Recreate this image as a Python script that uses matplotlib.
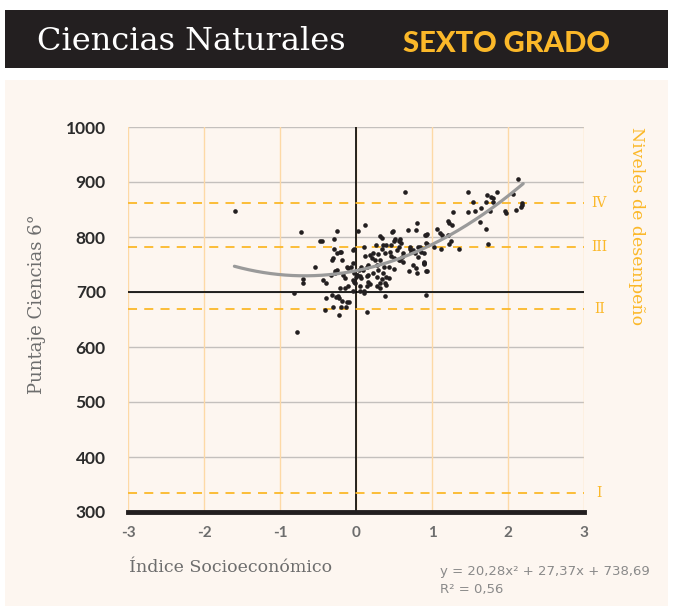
import matplotlib
matplotlib.use("Agg")
import matplotlib.pyplot as plt
import numpy as np
from matplotlib.patches import Rectangle

# ---------------- data ----------------
x_ticks = [-3, -2, -1, 0, 1, 2, 3]
y_ticks = [300, 400, 500, 600, 700, 800, 900, 1000]
level_values = [862, 782, 669, 335]
level_labels = ["IV", "III", "II", "I"]
coef = [20.28, 27.37, 738.69]
fit_range = [-1.6, 2.2]

ise = [
    -1.59, -0.73, -0.48, -0.45, -0.54, -0.70, -0.70, -0.44, -0.39, -0.82, -0.39, -0.41, -0.77,
    -0.32, -0.23, -0.19, -0.12, -0.30, -0.22, -0.20, -0.13, -0.09, -0.21, -0.14, -0.10, -0.04, -0.26, -0.24,
    -0.04, -0.01, 0.01, 0.04, 0.06, 0.14, 0.16, 0.18, 0.15, 0.27, 0.31, 0.34, 0.38, 0.43, 0.32, 0.38,
    0.05, 0.11, 0.14, -0.03, 0.05, 0.10, 0.27, 0.40,
    -0.29, -0.25, -0.21, -0.31, -0.30, -0.18, -0.20, -0.28, -0.25, -0.28, -0.33, -0.04, -0.03, -0.04,
    -0.06, -0.25, 0.03, 0.12, -0.29, 0.00, -0.02, -0.12, -0.10, -0.17, -0.15,
    0.10, 0.12, 0.18, 0.23, 0.21, 0.25, 0.29, 0.32, 0.34, 0.38, 0.32, 0.34, 0.49, 0.51, 0.56, 0.58,
    0.59, 0.57, 0.54, 0.60, 0.62, 0.69, 0.71, 0.80, 0.79, 0.75, 0.81, 0.89, 0.92, 0.93, 0.89, 0.89,
    0.92, 0.80, 0.70, 0.79, 0.75, 0.62, 0.56, 0.50, 0.44, 0.37, 0.36, 0.40, 0.27, 0.29, 0.14, 0.16,
    0.07, 0.09, 0.16, 0.23, 0.05, 0.01,
    0.45, 0.46, 0.50, 0.58, 0.73, 0.78, 0.82, 0.48, 0.26, 0.35, 0.40, 0.46, 0.50, 0.71, 0.84, 0.92, 0.64,
    2.13, 2.06, 2.18, 2.18, 2.17, 2.11, 1.96, 1.97, 1.86, 1.80, 1.80, 1.73, 1.78, 1.71, 1.76, 1.64,
    1.57, 1.54, 1.48, 1.47, 1.63, 1.71, 1.74, 1.36, 1.27, 1.21, 1.23, 1.26, 1.07, 1.11, 1.13, 1.21,
    1.25, 1.23, 1.12, 1.02, 0.93, 0.91, 0.86, 0.89, 0.89, 0.93, 0.92,
]
puntaje = [
    848, 809, 793, 793, 746, 716, 723, 722, 717, 699, 689, 668, 628,
    695, 689, 684, 681, 672, 659, 673, 672, 681, 708, 707, 711, 702, 691, 693,
    722, 716, 731, 740, 726, 729, 719, 715, 710, 728, 716, 724, 716, 725, 707, 693,
    710, 701, 664, 719, 701, 699, 710, 713,
    778, 770, 773, 758, 762, 758, 773, 739, 740, 735, 731, 776, 779, 752,
    745, 811, 811, 821, 796, 728, 734, 746, 743, 731, 725,
    782, 766, 767, 770, 761, 758, 769, 758, 779, 770, 802, 799, 810, 796, 792, 796,
    789, 782, 776, 764, 770, 813, 779, 826, 812, 776, 781, 770, 804, 805, 755, 752,
    739, 735, 739, 743, 749, 755, 758, 741, 746, 746, 734, 728, 749, 740, 746, 749,
    746, 740, 731, 734, 729, 731,
    773, 765, 761, 758, 773, 771, 764, 809, 785, 785, 785, 785, 793, 782, 781, 789, 882,
    905, 878, 862, 858, 855, 849, 848, 844, 882, 863, 870, 876, 873, 863, 848, 852,
    847, 864, 881, 845, 827, 814, 787, 778, 845, 829, 826, 821, 815, 807, 804, 803,
    793, 787, 778, 781, 787, 804, 772, 753, 750, 739, 694,
]

# ---------------- style ----------------
CREAM = "#fdf6f0"
GOLD = "#fbb829"
DARK = "#231f20"
GREY_TXT = "#6d6d6d"
SERIF = ["DejaVu Serif"]
SANS = ["Lato", "DejaVu Sans"]

fig = plt.figure(figsize=(6.73, 6.11), dpi=100)
fig.patch.set_facecolor("white")

# background panel and header band
fig.patches.append(Rectangle((5 / 673, 1 - 606 / 611), 663 / 673, (606 - 80) / 611,
                             transform=fig.transFigure, facecolor=CREAM, edgecolor="none", zorder=-5))
fig.patches.append(Rectangle((5 / 673, 1 - 68 / 611), 663 / 673, 58 / 611,
                             transform=fig.transFigure, facecolor=DARK, edgecolor="none", zorder=-5))
fig.text(37 / 673, 1 - 42 / 611, "Ciencias Naturales", color="white", family=SERIF,
         fontsize=23, va="center", ha="left")
fig.text(403 / 673, 1 - 44 / 611, "SEXTO GRADO", color=GOLD, family=SANS,
         fontsize=21, fontweight="black", va="center", ha="left")

ax = fig.add_axes([128 / 673, 1 - 512 / 611, 456 / 673, 385 / 611])
ax.set_zorder(2)
ax.set_facecolor(CREAM)
ax.set_xlim(-3, 3)
ax.set_ylim(300, 1000)

for s in ax.spines.values():
    s.set_visible(False)

# grid
for yv in y_ticks:
    ax.axhline(yv, color="#c4c0bd", lw=1.0, zorder=1)
for xv in x_ticks:
    ax.axvline(xv, color="#fdd9a6", lw=1.0, zorder=1)
ax.axvline(0, color="black", lw=1.2, zorder=2)
ax.axhline(700, color="black", lw=1.2, zorder=2)
ax.axhline(300, color=DARK, lw=3.5, zorder=3, clip_on=False)

# level lines
for lv, lab in zip(level_values, level_labels):
    ax.axhline(lv, color=GOLD, lw=1.3, ls=(0, (5, 4)), zorder=2)
    ax.text(3.2, lv, lab, color=GOLD, family=SERIF, fontsize=10, ha="center", va="center",
            clip_on=False)

# scatter and fit
ax.scatter(ise, puntaje, s=11, color=DARK, zorder=4, linewidths=0)
xf = np.linspace(fit_range[0], fit_range[1], 200)
yf = np.polyval(coef, xf)
ax.plot(xf, yf, color="#9a9a9a", lw=2.3, zorder=5, solid_capstyle="round")

ax.set_xticks(x_ticks)
ax.set_yticks(y_ticks)
ax.set_xticklabels([str(v) for v in x_ticks], family=SANS, fontweight="bold", fontsize=11,
                   color=GREY_TXT)
ax.set_yticklabels([str(v) for v in y_ticks], family=SANS, fontweight="bold", fontsize=12.5,
                   color="#2b2b2b")
ax.tick_params(axis="both", length=0)
ax.tick_params(axis="x", pad=10)
ax.tick_params(axis="y", pad=16)

fig.text(37 / 673, 1 - 304 / 611, "Puntaje Ciencias 6°", rotation=90, color=GREY_TXT,
         family=SERIF, fontsize=13, ha="center", va="center")
fig.text(129 / 673, 1 - 567 / 611, "Índice Socioeconómico", color=GREY_TXT,
         family=SERIF, fontsize=12.5, ha="left", va="center")
fig.text(636 / 673, 1 - 127 / 611, "Niveles de desempeño", rotation=270, color=GOLD,
         family=SERIF, fontsize=12.5, ha="center", va="top")
fig.text(440 / 673, 1 - 572 / 611, "y = 20,28x² + 27,37x + 738,69", color="#8a8a8a",
         family=["Liberation Sans Narrow", "DejaVu Sans"], fontsize=9.5, ha="left", va="center")
fig.text(440 / 673, 1 - 590 / 611, "R² = 0,56", color="#8a8a8a",
         family=["Liberation Sans Narrow", "DejaVu Sans"], fontsize=9.5, ha="left", va="center")

fig.savefig("out.png", dpi=100, facecolor=fig.get_facecolor())
